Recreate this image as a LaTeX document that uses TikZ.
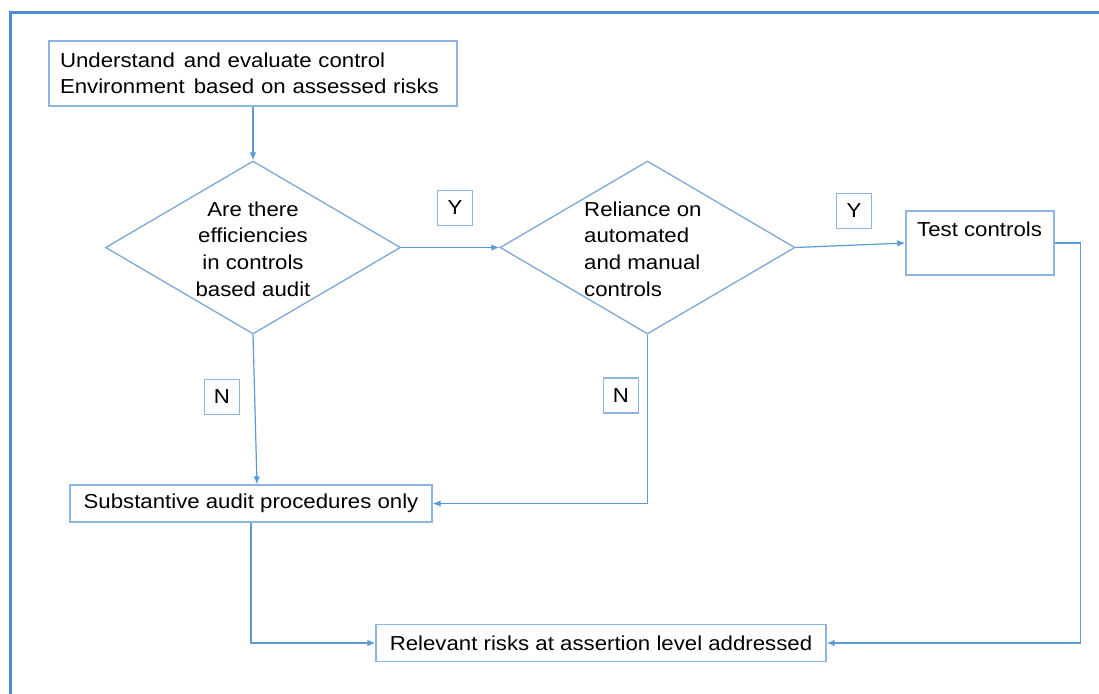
\documentclass[tikz,border=0pt]{standalone}
\usepackage{fontspec}
\setmainfont{Liberation Sans}[FakeStretch=1.1]
\usetikzlibrary{arrows.meta,shapes.geometric}
\definecolor{frame}{HTML}{4F8BD6}
\definecolor{wire}{HTML}{5B9BD5}
\definecolor{boxline}{HTML}{8DB4E2}
\definecolor{diamline}{HTML}{7FA7D3}

\begin{document}
\begin{tikzpicture}[x=1pt,y=-1pt,
  font=\fontsize{20.2}{26}\selectfont,
  box/.style={draw=boxline, line width=1.3pt, fill=white, inner sep=0pt},
  decision/.style={diamond, draw=diamline, line width=1.3pt, inner sep=0pt,
    minimum width=295pt, minimum height=173pt},
  dtext/.style={inner sep=0pt, font=\fontsize{20.2}{26.7}\selectfont},
  tag/.style={box, minimum width=35pt, minimum height=35pt},
  flow/.style={draw=wire, line width=1.2pt, -{Latex[length=8pt,width=6.5pt]}}
]
\useasboundingbox (0,0) rectangle (1099,693);
\fill[white] (0,0) rectangle (1099,693);
% page frame
\draw[frame, line width=3pt] (10,700) -- (10,13) -- (1105,13);

% process boxes
\node[box, text width=386pt, inner xsep=11pt, align=left, minimum height=65pt] (start) at (253,73.5)
  {Understand\hspace{0.45em}and evaluate control\\Environment\hspace{0.45em}based on assessed risks};

% decisions
\node[decision] (q1) at (253,247.5) {};
\node[dtext, align=center] (q1t) at (253,249) {Are there\\efficiencies\\in controls\\based audit};
\node[decision] (q2) at (647.5,247.5) {};
\node[dtext, align=left, anchor=west] (q2t) at (584,249) {Reliance on\\automated\\and manual\\controls};

\node[box, minimum width=148pt, minimum height=64pt] (test) at (980,243) {};
\node[anchor=base west, inner sep=0pt] (testt) at (917,236) {Test controls};

\node[box, minimum width=362pt, minimum height=37pt] (sub) at (251,503.5) {Substantive audit procedures only};
\node[box, minimum width=450pt, minimum height=37pt] (rel) at (601,643) {Relevant risks at assertion level addressed};

% branch labels
\node[tag] (y1) at (455,208) {Y};
\node[tag] (y2) at (854,211) {Y};
\node[tag] (n1) at (222,397) {N};
\node[tag] (n2) at (621,395.5) {N};

% connectors
\coordinate (subtop) at ([xshift=6pt]sub.north);
\draw[flow] (start.south) -- (q1.north);
\draw[flow] (q1.east) -- (q2.west);
\draw[flow] (q2.east) -- (test.west);
\draw[flow] (q1.south) -- (subtop);
\draw[flow] (q2.south) |- (sub.east);
\draw[flow] (sub.south) |- (rel.west);
\draw[flow] (test.east) -- ++(26,0) |- (rel.east);
\end{tikzpicture}
\end{document}
